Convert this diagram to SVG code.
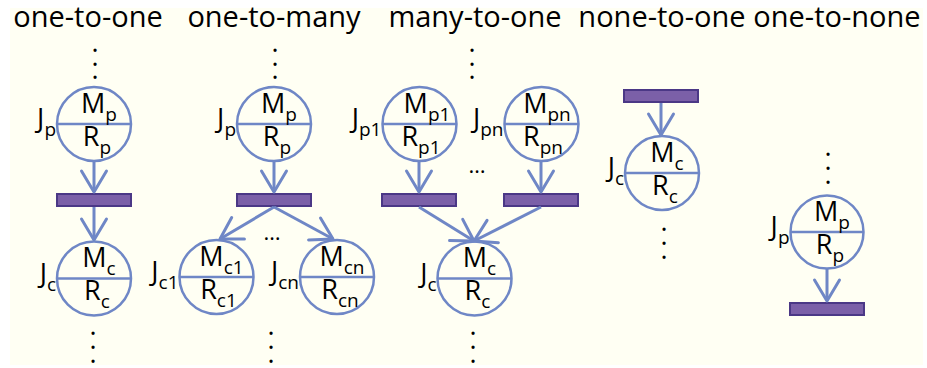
<svg xmlns="http://www.w3.org/2000/svg" width="927" height="368" viewBox="0 0 927 368">
  <style>
    .bg { fill: #FFFFF3; }
    .title { font-family: "Open Sans", "Liberation Sans", sans-serif; font-size: 29px; fill: #000; text-anchor: middle; }
    .node circle { fill: none; stroke: #6F87C6; stroke-width: 2.5; }
    .node line { stroke: #6F87C6; stroke-width: 2.5; }
    .lbl { font-family: "Open Sans", "Liberation Sans", sans-serif; font-size: 27px; fill: #000; }
    .mid { text-anchor: middle; }
    .end { text-anchor: end; }
    .sub { font-size: 19px; }
    .dots { font-family: "Open Sans", "Liberation Sans", sans-serif; font-size: 27px; fill: #000; text-anchor: middle; }
    .ell { font-family: "Open Sans", "Liberation Sans", sans-serif; font-size: 22px; fill: #000; text-anchor: middle; }
    .bar { fill: #7B60A8; stroke: #4B3886; stroke-width: 2; }
    .conn line { stroke: #6F87C6; stroke-width: 3; marker-end: url(#vhead); }
  </style>
  <defs>
    <marker id="vhead" markerUnits="userSpaceOnUse" viewBox="-26 -16 30 32" markerWidth="30" markerHeight="32" refX="0" refY="0" orient="auto" overflow="visible">
      <path d="M-21,-12.5 L0,0 L-21,12.5" fill="none" stroke="#6F87C6" stroke-width="3" stroke-linejoin="round" stroke-linecap="round"/>
    </marker>
  </defs>

  <rect class="bg" x="10" y="8" width="913" height="357"/>

  <!-- column headings -->
  <g id="titles">
    <text class="title" x="88" y="27">one-to-one</text>
    <text class="title" x="274" y="27">one-to-many</text>
    <text class="title" x="475" y="27">many-to-one</text>
    <text class="title" x="662" y="27">none-to-one</text>
    <text class="title" x="837" y="27">one-to-none</text>
  </g>

  <!-- continuation dots and ellipses -->
  <g id="ellipses">
    <text class="dots"><tspan x="95" y="52">.</tspan><tspan x="95" y="65.5">.</tspan><tspan x="95" y="79">.</tspan></text>
    <text class="dots"><tspan x="93" y="335">.</tspan><tspan x="93" y="349">.</tspan><tspan x="93" y="363">.</tspan></text>
    <text class="dots"><tspan x="275" y="52">.</tspan><tspan x="275" y="65.5">.</tspan><tspan x="275" y="79">.</tspan></text>
    <text class="dots"><tspan x="271" y="335">.</tspan><tspan x="271" y="349">.</tspan><tspan x="271" y="363">.</tspan></text>
    <text class="dots"><tspan x="472" y="52">.</tspan><tspan x="472" y="65.5">.</tspan><tspan x="472" y="79">.</tspan></text>
    <text class="dots"><tspan x="473" y="335">.</tspan><tspan x="473" y="349">.</tspan><tspan x="473" y="363">.</tspan></text>
    <text class="dots"><tspan x="664" y="231">.</tspan><tspan x="664" y="245">.</tspan><tspan x="664" y="259">.</tspan></text>
    <text class="dots"><tspan x="828" y="156">.</tspan><tspan x="828" y="170">.</tspan><tspan x="828" y="184">.</tspan></text>
    <text class="ell" x="272" y="240">…</text>
    <text class="ell" x="477" y="173">…</text>
  </g>

  <!-- transition bars -->
  <g id="bars">
    <rect id="bar-11" class="bar" x="57" y="194" width="74" height="12"/>
    <rect id="bar-1m" class="bar" x="237" y="194" width="74" height="12"/>
    <rect id="bar-m1a" class="bar" x="382" y="194" width="74" height="12"/>
    <rect id="bar-m1b" class="bar" x="504" y="194" width="74" height="12"/>
    <rect id="bar-01" class="bar" x="624" y="90" width="74" height="12"/>
    <rect id="bar-10" class="bar" x="790" y="303" width="74" height="12"/>
  </g>

  <!-- connectors -->
  <g id="connectors" class="conn">
    <line x1="94" y1="161" x2="94" y2="192"/>
    <line x1="94" y1="207" x2="94" y2="240"/>
    <line x1="274" y1="161" x2="274" y2="192"/>
    <line x1="274" y1="207" x2="220" y2="239"/>
    <line x1="274" y1="207" x2="333" y2="239"/>
    <line x1="419" y1="161" x2="419" y2="192"/>
    <line x1="541" y1="161" x2="541" y2="192"/>
    <line x1="419" y1="207" x2="474" y2="241"/>
    <line x1="541" y1="207" x2="474" y2="241"/>
    <line x1="661" y1="103" x2="661" y2="135"/>
    <line x1="827" y1="268" x2="827" y2="301"/>
  </g>

  <!-- job nodes -->
  <g id="n-11-parent" class="node">
    <circle cx="94" cy="124" r="37"/>
    <line x1="57" y1="124" x2="131" y2="124"/>
    <text class="lbl mid" x="99" y="112.5">M<tspan class="sub" dy="8">p</tspan></text>
    <text class="lbl mid" x="97" y="145.5">R<tspan class="sub" dy="8">p</tspan></text>
    <text class="lbl end" x="56" y="128">J<tspan class="sub" dy="8">p</tspan></text>
  </g>
  <g id="n-11-child" class="node">
    <circle cx="94" cy="278.5" r="37"/>
    <line x1="57" y1="278.5" x2="131" y2="278.5"/>
    <text class="lbl mid" x="99" y="267">M<tspan class="sub" dy="8">c</tspan></text>
    <text class="lbl mid" x="97" y="300">R<tspan class="sub" dy="8">c</tspan></text>
    <text class="lbl end" x="56" y="282.5">J<tspan class="sub" dy="8">c</tspan></text>
  </g>

  <g id="n-1m-parent" class="node">
    <circle cx="274" cy="124" r="37"/>
    <line x1="237" y1="124" x2="311" y2="124"/>
    <text class="lbl mid" x="279" y="112.5">M<tspan class="sub" dy="8">p</tspan></text>
    <text class="lbl mid" x="277" y="145.5">R<tspan class="sub" dy="8">p</tspan></text>
    <text class="lbl end" x="236" y="128">J<tspan class="sub" dy="8">p</tspan></text>
  </g>
  <g id="n-1m-child1" class="node">
    <circle cx="216.5" cy="277" r="37"/>
    <line x1="179.5" y1="277" x2="253.5" y2="277"/>
    <text class="lbl mid" x="221.5" y="265.5">M<tspan class="sub" dy="8">c1</tspan></text>
    <text class="lbl mid" x="218.5" y="298.5">R<tspan class="sub" dy="8">c1</tspan></text>
    <text class="lbl end" x="178.5" y="281">J<tspan class="sub" dy="8">c1</tspan></text>
  </g>
  <g id="n-1m-childn" class="node">
    <circle cx="337" cy="277" r="37"/>
    <line x1="300" y1="277" x2="374" y2="277"/>
    <text class="lbl mid" x="342" y="265.5">M<tspan class="sub" dy="8">cn</tspan></text>
    <text class="lbl mid" x="340" y="298.5">R<tspan class="sub" dy="8">cn</tspan></text>
    <text class="lbl end" x="299" y="281">J<tspan class="sub" dy="8">cn</tspan></text>
  </g>

  <g id="n-m1-parent1" class="node">
    <circle cx="419.5" cy="124" r="37"/>
    <line x1="382.5" y1="124" x2="456.5" y2="124"/>
    <text class="lbl mid" x="427" y="112.5">M<tspan class="sub" dy="8">p1</tspan></text>
    <text class="lbl mid" x="421" y="145.5">R<tspan class="sub" dy="8">p1</tspan></text>
    <text class="lbl end" x="381.5" y="128">J<tspan class="sub" dy="8">p1</tspan></text>
  </g>
  <g id="n-m1-parentn" class="node">
    <circle cx="541.5" cy="124" r="37"/>
    <line x1="504.5" y1="124" x2="578.5" y2="124"/>
    <text class="lbl mid" x="547" y="112.5">M<tspan class="sub" dy="8">pn</tspan></text>
    <text class="lbl mid" x="543" y="145.5">R<tspan class="sub" dy="8">pn</tspan></text>
    <text class="lbl end" x="503.5" y="128">J<tspan class="sub" dy="8">pn</tspan></text>
  </g>
  <g id="n-m1-child" class="node">
    <circle cx="474.5" cy="278.5" r="37"/>
    <line x1="437.5" y1="278.5" x2="511.5" y2="278.5"/>
    <text class="lbl mid" x="479.5" y="267">M<tspan class="sub" dy="8">c</tspan></text>
    <text class="lbl mid" x="477.5" y="300">R<tspan class="sub" dy="8">c</tspan></text>
    <text class="lbl end" x="436.5" y="282.5">J<tspan class="sub" dy="8">c</tspan></text>
  </g>

  <g id="n-01-child" class="node">
    <circle cx="662" cy="173" r="37"/>
    <line x1="625" y1="173" x2="699" y2="173"/>
    <text class="lbl mid" x="667" y="161.5">M<tspan class="sub" dy="8">c</tspan></text>
    <text class="lbl mid" x="665" y="194.5">R<tspan class="sub" dy="8">c</tspan></text>
    <text class="lbl end" x="624" y="177">J<tspan class="sub" dy="8">c</tspan></text>
  </g>

  <g id="n-10-parent" class="node">
    <circle cx="827" cy="232" r="36.5"/>
    <line x1="790.5" y1="232" x2="863.5" y2="232"/>
    <text class="lbl mid" x="832" y="220.5">M<tspan class="sub" dy="8">p</tspan></text>
    <text class="lbl mid" x="830" y="253.5">R<tspan class="sub" dy="8">p</tspan></text>
    <text class="lbl end" x="789.5" y="236">J<tspan class="sub" dy="8">p</tspan></text>
  </g>
</svg>
